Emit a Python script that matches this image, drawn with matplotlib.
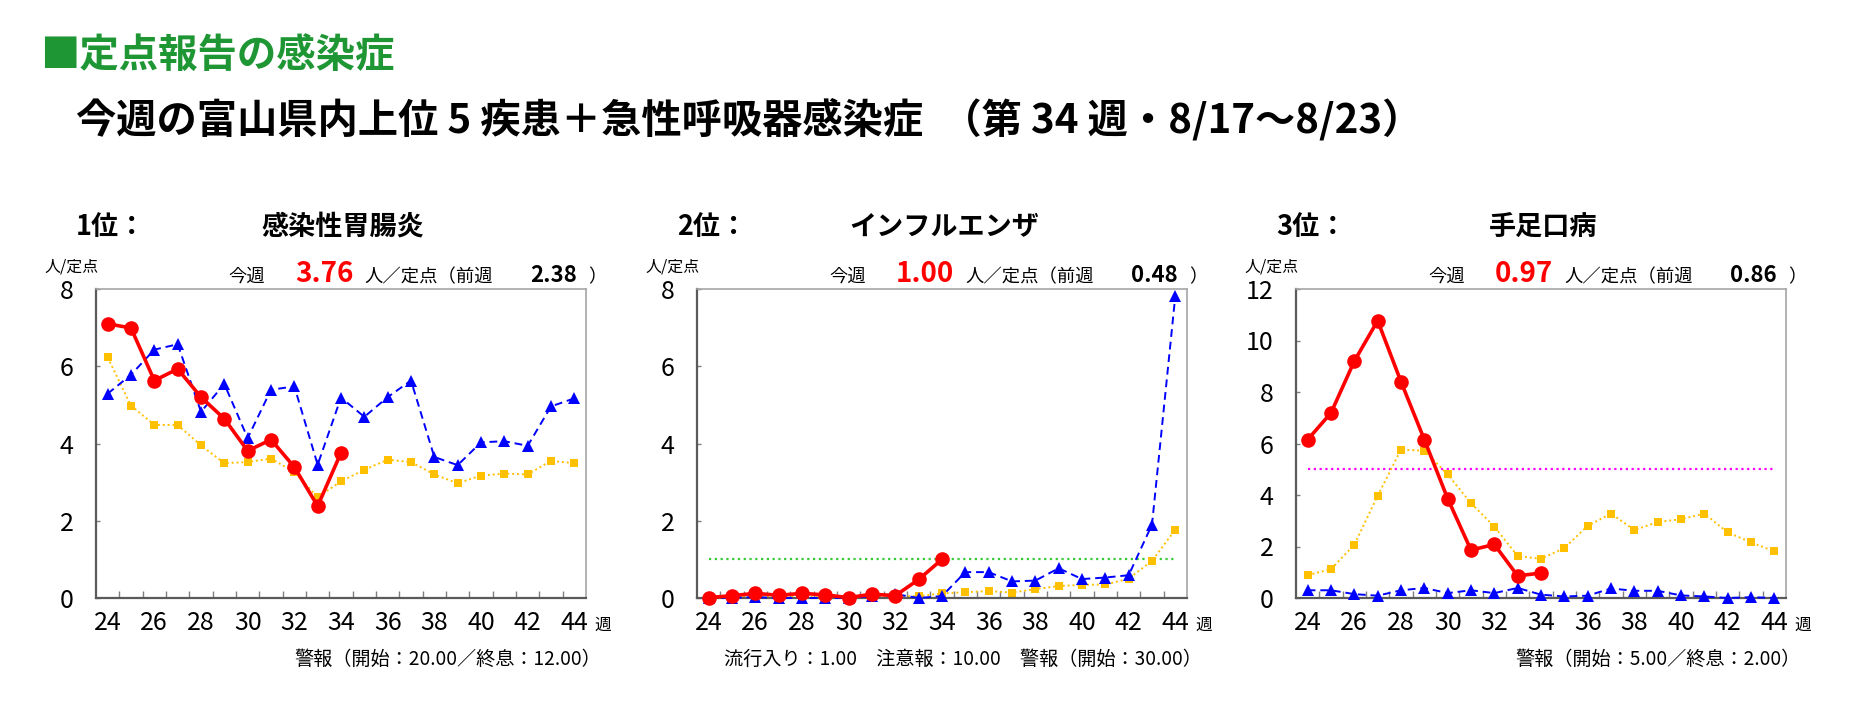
import matplotlib
matplotlib.use("Agg")
import matplotlib.pyplot as plt
import numpy as np

plt.rcParams['font.family'] = ['Noto Sans CJK JP', 'DejaVu Sans']

# ---------------- data ----------------
weeks = list(range(24, 45))
weeks_now = list(range(24, 35))

# 1位 感染性胃腸炎
gastro_now = [7.10, 6.99, 5.63, 5.93, 5.20, 4.64, 3.81, 4.10, 3.39, 2.38, 3.76]
gastro_last = [5.29, 5.78, 6.43, 6.57, 4.82, 5.54, 4.14, 5.39, 5.48, 3.45, 5.19,
               4.69, 5.20, 5.63, 3.65, 3.44, 4.03, 4.06, 3.94, 4.96, 5.17]
gastro_avg = [6.23, 4.98, 4.48, 4.48, 3.95, 3.49, 3.52, 3.61, 3.26, 2.61, 3.02,
              3.32, 3.58, 3.52, 3.20, 2.97, 3.17, 3.22, 3.20, 3.55, 3.49]

# 2位 インフルエンザ
flu_now = [0.01, 0.06, 0.12, 0.07, 0.12, 0.08, 0.01, 0.10, 0.06, 0.48, 1.00]
flu_last = [0.00, 0.01, 0.02, 0.00, 0.00, 0.00, 0.00, 0.05, 0.10, 0.00, 0.05,
            0.67, 0.67, 0.43, 0.45, 0.77, 0.49, 0.53, 0.59, 1.90, 7.83]
flu_avg = [0.02, 0.03, 0.03, 0.02, 0.03, 0.02, 0.02, 0.03, 0.04, 0.05, 0.12,
           0.15, 0.18, 0.14, 0.23, 0.31, 0.34, 0.35, 0.50, 0.96, 1.77]

# 3位 手足口病
hfmd_now = [6.15, 7.19, 9.20, 10.77, 8.40, 6.15, 3.86, 1.86, 2.08, 0.86, 0.97]
hfmd_last = [0.30, 0.30, 0.15, 0.09, 0.30, 0.39, 0.19, 0.30, 0.19, 0.39, 0.13,
             0.06, 0.09, 0.37, 0.28, 0.28, 0.10, 0.06, 0.00, 0.03, 0.00]
hfmd_avg = [0.89, 1.12, 2.07, 3.97, 5.76, 5.72, 4.80, 3.68, 2.77, 1.63, 1.52,
            1.94, 2.80, 3.28, 2.64, 2.95, 3.06, 3.28, 2.55, 2.16, 1.81]

ranks = ["1位：", "2位：", "3位："]
diseases = ["感染性胃腸炎", "インフルエンザ", "手足口病"]
this_week = ["3.76", "1.00", "0.97"]
prev_week = ["2.38", "0.48", "0.86"]
footnotes = ["警報（開始：20.00／終息：12.00）",
             "流行入り：1.00　注意報：10.00　警報（開始：30.00）",
             "警報（開始：5.00／終息：2.00）"]
ymax = [8, 8, 12]
threshold = [None, 1.0, 5.0]
threshold_color = [None, "#33CC33", "#FF00FF"]

series_now = [gastro_now, flu_now, hfmd_now]
series_last = [gastro_last, flu_last, hfmd_last]
series_avg = [gastro_avg, flu_avg, hfmd_avg]

title1 = "■定点報告の感染症"
title2 = "今週の富山県内上位 5 疾患＋急性呼吸器感染症  （第 34 週・8/17～8/23）"

# ---------------- figure ----------------
W, H = 1873, 717
fig = plt.figure(figsize=(W / 100, H / 100), dpi=100)
fig.patch.set_facecolor("white")


def fx(x):
    return x / W


def fy(y):
    return 1 - y / H


fig.text(fx(40), fy(55), title1, fontsize=28.4, fontweight="bold",
         color="#1E9634", ha="left", va="center")
fig.text(fx(76), fy(120), title2, fontsize=29, fontweight="bold",
         color="black", ha="left", va="center")

ax_left = [96, 697, 1296]
ax_w = 490
ax_top, ax_bot = 289, 598

for i in range(3):
    x0 = ax_left[i]
    ax = fig.add_axes([fx(x0), fy(ax_bot), ax_w / W, (ax_bot - ax_top) / H])
    ax.set_xlim(23.5, 44.5)
    ax.set_ylim(0, ymax[i])

    if threshold[i] is not None:
        ax.plot([weeks[0], weeks[-1]], [threshold[i], threshold[i]],
                color=threshold_color[i], lw=1.6, linestyle=(0, (1, 1.6)),
                zorder=1)

    ax.plot(weeks, series_avg[i], color="#FFC000", lw=1.4,
            linestyle=(0, (1, 1.5)), marker="s", markersize=6,
            markeredgewidth=0, zorder=2, clip_on=False)
    ax.plot(weeks, series_last[i], color="#0000FF", lw=1.4,
            linestyle=(0, (4, 2.5)), marker="^", markersize=8,
            markeredgewidth=0, zorder=3, clip_on=False)
    ax.plot(weeks_now, series_now[i], color="#FF0000", lw=2.6,
            linestyle="-", marker="o", markersize=10.5,
            markeredgewidth=0, zorder=4, clip_on=False)

    # spines
    for s in ["left", "bottom"]:
        ax.spines[s].set_color("#5A5A5A")
        ax.spines[s].set_linewidth(1.6)
    for s in ["top", "right"]:
        ax.spines[s].set_color("#A6A6A6")
        ax.spines[s].set_linewidth(1.2)

    ax.set_xticks(weeks[::2])
    ax.set_xticklabels([str(w) for w in weeks[::2]])
    ax.set_xticks(np.arange(24.5, 44.5, 1.0), minor=True)
    ax.tick_params(axis="x", which="major", length=0, pad=9, labelsize=18)
    ax.tick_params(axis="x", which="minor", direction="in", length=5,
                   width=1.0, color="#7F7F7F")
    yt = list(range(0, ymax[i] + 1, 2))
    ax.set_yticks(yt)
    ax.set_yticklabels([str(v) for v in yt])
    ax.tick_params(axis="y", which="major", direction="in", length=3,
                   width=1.0, color="#7F7F7F", pad=16, labelsize=18)

    # texts
    fig.text(fx(x0 - 20), fy(227), ranks[i], fontsize=19.5,
             fontweight="bold", ha="left", va="center")
    fig.text(fx(x0 + 247), fy(227), diseases[i], fontsize=19.5,
             fontweight="bold", ha="center", va="center")
    fig.text(fx(x0 - 52), fy(267), "人/定点", fontsize=11.5,
             ha="left", va="center")
    base = fy(282)
    fig.text(fx(x0 + 132), base, "今週", fontsize=13.2, ha="left",
             va="baseline")
    fig.text(fx(x0 + 199), base, this_week[i], fontsize=20,
             fontweight="bold", color="#FF0000", ha="left", va="baseline")
    fig.text(fx(x0 + 268), base, "人／定点（前週", fontsize=13.2,
             ha="left", va="baseline")
    fig.text(fx(x0 + 434), base, prev_week[i], fontsize=16,
             fontweight="bold", ha="left", va="baseline")
    fig.text(fx(x0 + 492), base, "）", fontsize=13.2, ha="left",
             va="baseline")
    fig.text(fx(x0 + 498), fy(625), "週", fontsize=12, ha="left",
             va="center")
    fig.text(fx(x0 + 505), fy(659), footnotes[i], fontsize=13.8,
             ha="right", va="center")

fig.savefig("out.png", dpi=100, facecolor="white")
